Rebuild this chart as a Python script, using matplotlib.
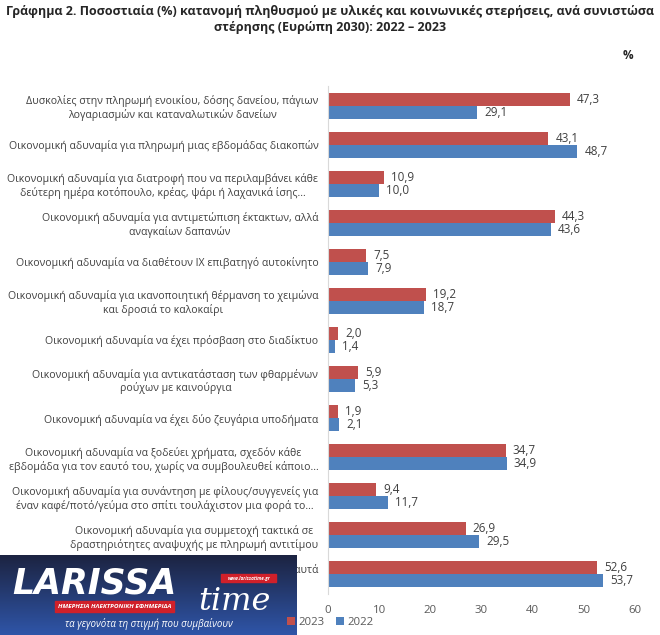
import numpy as np
import matplotlib.pyplot as plt
from matplotlib.patches import Rectangle

plt.rcParams['font.family'] = ['Open Sans', 'DejaVu Sans']

categories = [
    'Δυσκολίες στην πληρωμή ενοικίου, δόσης δανείου, πάγιων\nλογαριασμών και καταναλωτικών δανείων',
    'Οικονομική αδυναμία για πληρωμή μιας εβδομάδας διακοπών',
    'Οικονομική αδυναμία για διατροφή που να περιλαμβάνει κάθε\nδεύτερη ημέρα κοτόπουλο, κρέας, ψάρι ή λαχανικά ίσης...',
    'Οικονομική αδυναμία για αντιμετώπιση έκτακτων, αλλά\nαναγκαίων δαπανών',
    'Οικονομική αδυναμία να διαθέτουν ΙΧ επιβατηγό αυτοκίνητο',
    'Οικονομική αδυναμία για ικανοποιητική θέρμανση το χειμώνα\nκαι δροσιά το καλοκαίρι',
    'Οικονομική αδυναμία να έχει πρόσβαση στο διαδίκτυο',
    'Οικονομική αδυναμία για αντικατάσταση των φθαρμένων\nρούχων με καινούργια',
    'Οικονομική αδυναμία να έχει δύο ζευγάρια υποδήματα',
    'Οικονομική αδυναμία να ξοδεύει χρήματα, σχεδόν κάθε\nεβδομάδα για τον εαυτό του, χωρίς να συμβουλευθεί κάποιο...',
    'Οικονομική αδυναμία για συνάντηση με φίλους/συγγενείς για\nέναν καφέ/ποτό/γεύμα στο σπίτι τουλάχιστον μια φορά το...',
    'Οικονομική αδυναμία για συμμετοχή τακτικά σε\nδραστηριότητες αναψυχής με πληρωμή αντιτίμου',
    'Οικονομική αδυναμία να αλλάζει έπιπλα, όταν φθαρούν αυτά\nμε καινούργια',
]
values_2023 = [47.3, 43.1, 10.9, 44.3, 7.5, 19.2, 2.0, 5.9, 1.9, 34.7, 9.4, 26.9, 52.6]
values_2022 = [29.1, 48.7, 10.0, 43.6, 7.9, 18.7, 1.4, 5.3, 2.1, 34.9, 11.7, 29.5, 53.7]
xticks = [0, 10, 20, 30, 40, 50, 60]

red = '#C0504D'
blue = '#4F81BD'
txt = '#404040'

fig = plt.figure(figsize=(6.6, 6.35), dpi=100)
ax = fig.add_axes([0.497, 0.0646, 0.465, 0.80])

y = np.arange(len(categories))
h = 0.333
ax.barh(y - h / 2, values_2023, height=h, color=red, label='2023')
ax.barh(y + h / 2, values_2022, height=h, color=blue, label='2022')

for i in range(len(categories)):
    ax.text(values_2023[i] + 1.4, y[i] - h / 2, f'{values_2023[i]:.1f}'.replace('.', ','),
            va='center', ha='left', fontsize=8.4, color=txt)
    ax.text(values_2022[i] + 1.4, y[i] + h / 2, f'{values_2022[i]:.1f}'.replace('.', ','),
            va='center', ha='left', fontsize=8.4, color=txt)

ax.set_ylim(len(categories) - 0.5, -0.5)
ax.set_xlim(0, 60)
ax.set_xticks(xticks)
ax.set_yticks(y)
ax.set_yticklabels(categories, fontsize=7.6, color=txt)
for t in ax.get_yticklabels():
    t.set_multialignment('center')
ax.tick_params(axis='y', length=0, pad=7)
ax.tick_params(axis='x', length=0, labelsize=8.2, colors='#595959', pad=8)
for s in ['top', 'right', 'bottom']:
    ax.spines[s].set_visible(False)
ax.spines['left'].set_color('#D9D9D9')

fig.text(0.5, 0.992, 'Γράφημα 2. Ποσοστιαία (%) κατανομή πληθυσμού με υλικές και κοινωνικές στερήσεις, ανά συνιστώσα\nστέρησης (Ευρώπη 2030): 2022 – 2023',
         ha='center', va='top', fontsize=9.0, fontweight='bold', color='#262626', linespacing=1.3)
fig.text(0.952, 0.913, '%', ha='center', va='center', fontsize=8.5, fontweight='bold', color='#262626')

fig.legend(loc='center', bbox_to_anchor=(0.5, 0.02), ncol=2, frameon=False,
           fontsize=8.2, handlelength=0.7, handleheight=0.7, handletextpad=0.3,
           columnspacing=1.0, labelcolor='#595959')

# logo overlay
lax = fig.add_axes([0, 0, 0.45, 0.126])
grad = np.linspace(0, 1, 100).reshape(-1, 1)
lax.imshow(grad, aspect='auto', cmap=plt.matplotlib.colors.LinearSegmentedColormap.from_list(
    'g', ['#1c2340', '#2f55a8']), extent=[0, 1, 0, 1], origin='upper')
lax.set_xlim(0, 1)
lax.set_ylim(0, 1)
lax.axis('off')
lax.text(0.04, 0.64, 'LARISSA', color='white', fontsize=25, fontweight='bold', style='italic',
         ha='left', va='center', family='DejaVu Sans')
lax.add_patch(Rectangle((0.185, 0.29), 0.40, 0.14, color='#d0202a'))
lax.text(0.385, 0.36, 'ΗΜΕΡΗΣΙΑ ΗΛΕΚΤΡΟΝΙΚΗ ΕΦΗΜΕΡΙΔΑ', color='white', fontsize=4.6,
         fontweight='bold', style='italic', ha='center', va='center')
lax.add_patch(Rectangle((0.745, 0.66), 0.185, 0.1, color='#d0202a'))
lax.text(0.8375, 0.71, 'www.larissatime.gr', color='white', fontsize=3.3, fontweight='bold',
         style='italic', ha='center', va='center')
lax.text(0.79, 0.42, 'time', color='white', fontsize=23, style='italic', ha='center', va='center',
         family='DejaVu Serif')
lax.text(0.5, 0.14, 'τα γεγονότα τη στιγμή που συμβαίνουν', color='white', fontsize=7,
         style='italic', ha='center', va='center')

fig.savefig('out.png', dpi=100)
